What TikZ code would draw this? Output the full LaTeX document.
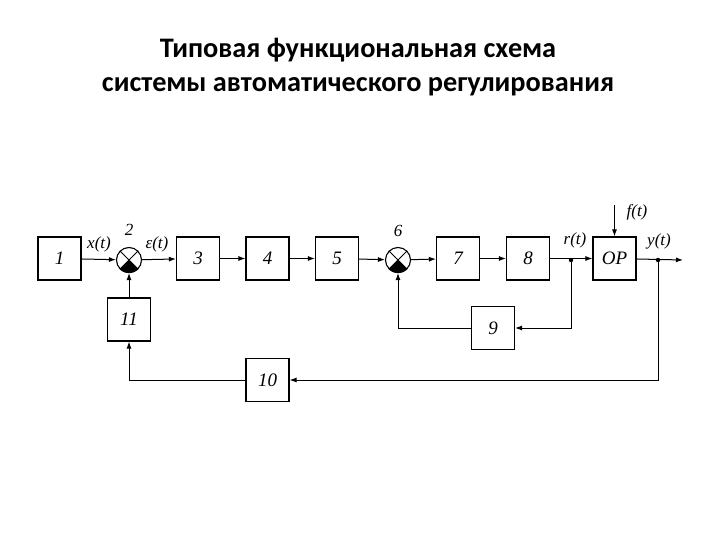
\documentclass[tikz,border=0pt]{standalone}
\usepackage{fontspec}
\setmainfont{Liberation Serif}
\newfontfamily\titlefont{Carlito}
\usetikzlibrary{arrows.meta}
\begin{document}
\begin{tikzpicture}[x=1pt,y=-1pt,
  blk/.style={draw,line width=1.1pt,minimum width=43pt,minimum height=43pt,inner sep=0pt,
    text height=12pt,text depth=0pt,
    font=\itshape\fontsize{19}{19}\selectfont},
  sum/.style={draw,circle,line width=1.1pt,minimum size=25pt,inner sep=0pt},
  arr/.style={line width=1pt,-{Latex[length=7pt,width=5pt]}},
  lbl/.style={font=\itshape\fontsize{17}{17}\selectfont,inner sep=0pt},
  ttl/.style={font=\titlefont\bfseries\fontsize{28.3}{28.3}\selectfont,inner sep=0pt}]
\useasboundingbox (0,0) rectangle (720,540);
\node[ttl] (t1) at (358,50) {Типовая функциональная схема};
\node[ttl] (t2) at (358,87) {системы автоматического регулирования};

\node[blk] (b1) at (59.5,258.5) {1};
\node[sum] (s2) at (129,260) {};
\node[blk] (b3) at (198,258.5) {3};
\node[blk] (b4) at (267.5,258.5) {4};
\node[blk] (b5) at (337,258.5) {5};
\node[sum] (s6) at (398,260) {};
\node[blk] (b7) at (458,258.5) {7};
\node[blk] (b8) at (528,258.5) {8};
\node[blk] (op) at (614.5,258.5) {OP};
\node[blk] (b11) at (129,319.5) {11};
\node[blk] (b10) at (267.5,380) {10};
\node[blk] (b9) at (493,328) {9};

\foreach \s in {s2,s6}{
  \draw[line width=1pt] (\s.north west) -- (\s.south east);
  \draw[line width=1pt] (\s.north east) -- (\s.south west);
  \fill (\s.center) -- (\s.225) -- (\s.235) -- (\s.245) -- (\s.255) -- (\s.265) -- (\s.275)
     -- (\s.285) -- (\s.295) -- (\s.305) -- (\s.315) -- cycle;
}

\coordinate (jr) at (571,260);
\coordinate (jy) at (658,260);
\coordinate (out) at (683,260);
\coordinate (fin) at (614.5,205);

\draw[arr] (b1) -- (s2);
\draw[arr] (s2) -- (b3);
\draw[arr] (b3) -- (b4);
\draw[arr] (b4) -- (b5);
\draw[arr] (b5) -- (s6);
\draw[arr] (s6) -- (b7);
\draw[arr] (b7) -- (b8);
\draw[arr] (b8) -- (op);
\draw[arr] (op) -- (out);
\draw[arr] (fin) -- (op);
\draw[arr] (jy) |- (b10);
\draw[arr] (b10) -| (b11);
\draw[arr] (b11) -- (s2);
\draw[arr] (jr) |- (b9);
\draw[arr] (b9) -| (s6);
\fill (jr) circle[radius=2.2pt];
\fill (jy) circle[radius=2.2pt];

\node[lbl] (l2) at (129,230) {2};
\node[lbl] (l6) at (398,231) {6};
\node[lbl] (lx) at (99,244) {x(t)};
\node[lbl] (le) at (157,244) {ε(t)};
\node[lbl] (lr) at (575,240) {r(t)};
\node[lbl] (ly) at (659,241) {y(t)};
\node[lbl] (lf) at (637,212) {f(t)};
\end{tikzpicture}
\end{document}
